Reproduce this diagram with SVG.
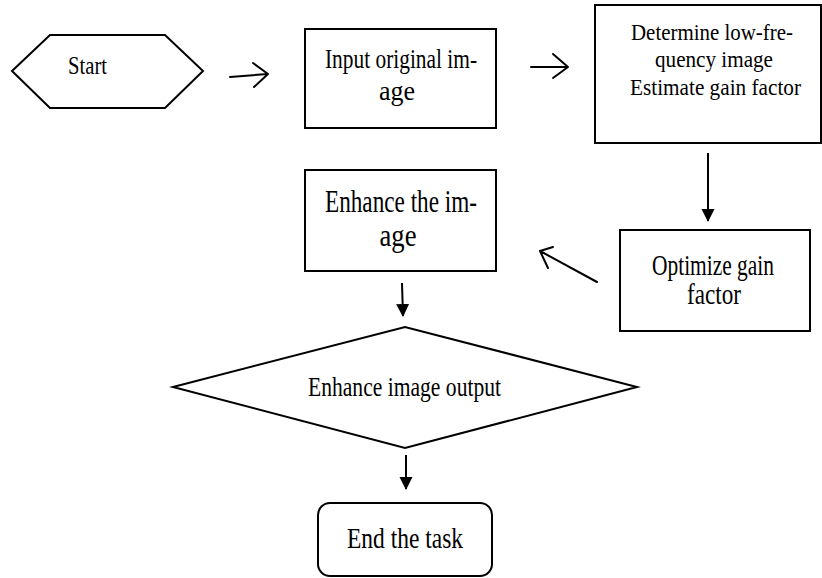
<svg xmlns="http://www.w3.org/2000/svg" width="822" height="578" viewBox="0 0 822 578">
<style>
.s{fill:#fff;stroke:#000;stroke-width:2}
.t{font-family:"Liberation Serif","Times New Roman",serif;fill:#000;text-anchor:middle}
.c{stroke:#000;stroke-width:2;fill:none}
.o{stroke:#000;stroke-width:2;fill:none;stroke-linecap:round;stroke-linejoin:round}
</style>
<defs>
<marker id="fh" markerWidth="14" markerHeight="14" refX="12" refY="7" orient="auto" markerUnits="userSpaceOnUse">
<path d="M0,0.5 L13,7 L0,13.5 Z" fill="#000"/>
</marker>
</defs>
<rect width="822" height="578" fill="#fff"/>
<g id="start">
<polygon class="s" points="12,71 50,35 165,35 203,71 165,108 50,108"/>
<text class="t" x="87.5" y="74" font-size="26" textLength="39" lengthAdjust="spacingAndGlyphs">Start</text>
</g>
<g id="input">
<rect class="s" x="305" y="29" width="191" height="99"/>
<text class="t" x="401" y="68" font-size="27" textLength="152" lengthAdjust="spacingAndGlyphs">Input original im-</text>
<text class="t" x="397" y="100" font-size="27" textLength="36" lengthAdjust="spacingAndGlyphs">age</text>
</g>
<g id="determine">
<rect class="s" x="595" y="5" width="226" height="138"/>
<text class="t" x="712" y="40" font-size="24" textLength="162" lengthAdjust="spacingAndGlyphs">Determine low-fre-</text>
<text class="t" x="714" y="67" font-size="24" textLength="118" lengthAdjust="spacingAndGlyphs">quency image</text>
<text class="t" x="715.5" y="95" font-size="24" textLength="171" lengthAdjust="spacingAndGlyphs">Estimate gain factor</text>
</g>
<g id="optimize">
<rect class="s" x="620" y="230" width="190" height="101"/>
<text class="t" x="713" y="275" font-size="29" textLength="122" lengthAdjust="spacingAndGlyphs">Optimize gain</text>
<text class="t" x="714" y="304" font-size="29" textLength="54" lengthAdjust="spacingAndGlyphs">factor</text>
</g>
<g id="enhance">
<rect class="s" x="305" y="170" width="191" height="101"/>
<text class="t" x="401" y="212" font-size="31" textLength="152" lengthAdjust="spacingAndGlyphs">Enhance the im-</text>
<text class="t" x="398" y="246" font-size="31" textLength="37" lengthAdjust="spacingAndGlyphs">age</text>
</g>
<g id="output">
<polygon class="s" points="173,387 405,327 637,387 405,448"/>
<text class="t" x="404.5" y="396" font-size="28" textLength="193" lengthAdjust="spacingAndGlyphs">Enhance image output</text>
</g>
<g id="end">
<rect class="s" x="318" y="503" width="174" height="73" rx="12"/>
<text class="t" x="405" y="548" font-size="30" textLength="116" lengthAdjust="spacingAndGlyphs">End the task</text>
</g>
<g id="connectors">
<path class="o" d="M230,77 L268,74 M253,63 L268,74 L254,87"/>
<path class="o" d="M531,67 L568,67 M553,54 L568,67 L553,78"/>
<line class="c" x1="708" y1="153" x2="708" y2="221" marker-end="url(#fh)"/>
<path class="o" d="M597,282 L540,251 M553,247 L540,251 L548,268"/>
<line class="c" x1="402" y1="283" x2="403" y2="316" marker-end="url(#fh)"/>
<line class="c" x1="406" y1="455" x2="406" y2="489" marker-end="url(#fh)"/>
</g>
</svg>
